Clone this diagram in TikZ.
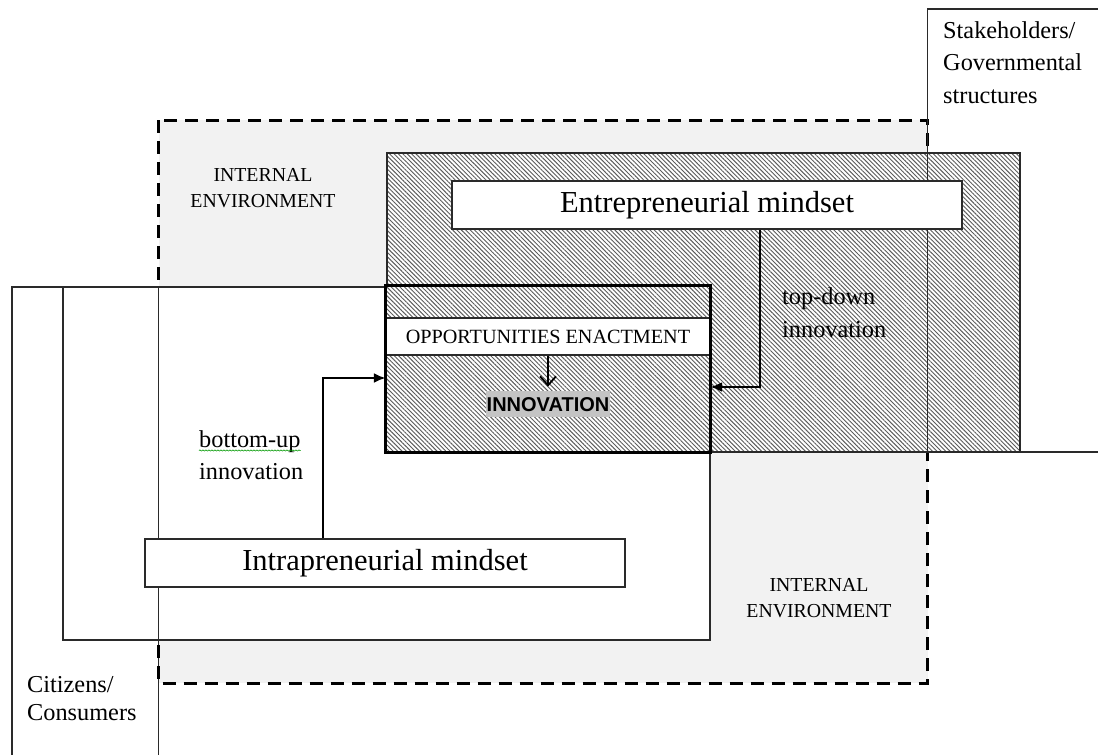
\documentclass[tikz,border=0pt]{standalone}
\usepackage{fontspec}
\setmainfont{Liberation Serif}
\newfontfamily\arialfont{Liberation Sans}
\usetikzlibrary{arrows.meta,patterns.meta,decorations.pathmorphing}
\definecolor{envgray}{HTML}{F2F2F2}
\definecolor{hlgray}{HTML}{C4C4C4}
\definecolor{linegray}{HTML}{2A2A2A}
\definecolor{hatchcol}{HTML}{5C5C5C}
\begin{document}
\begin{tikzpicture}[x=1pt,y=-1pt,
  frame/.style={line width=1.3pt, draw=linegray},
  envdash/.style={line width=3pt, draw=black, dash pattern=on 13pt off 8pt},
  hatchfill/.style={preaction={fill=white}, pattern={Lines[angle=-45,distance=3.1pt,line width=0.95pt]}, pattern color=hatchcol},
  mindbox/.style={frame, fill=white, inner sep=0pt, font=\fontsize{30.5}{36}\selectfont},
  oppbox/.style={frame, fill=white, inner sep=0pt, font=\fontsize{20.2}{24}\selectfont},
  lblsmall/.style={inner sep=0pt, anchor=base, font=\fontsize{19.8}{24}\selectfont},
  lblmid/.style={inner sep=0pt, anchor=base west, font=\fontsize{24.3}{30}\selectfont},
  arr/.style={line width=2.8pt, draw=black, -{Latex[length=12pt,width=10pt]}},
  oarr/.style={line width=1.8pt, draw=black, -{Straight Barb[length=9pt,width=16pt]}}
]
\useasboundingbox (0,0) rectangle (1098,755);

% Citizens / Consumers frame
\draw[frame] (12,755) -- (12,287) -- (158.5,287) -- (158.5,755);

% internal environment (dashed)
\fill[envgray] (158.5,120) rectangle (927.5,683);
\draw[envdash] (158.5,120) rectangle (927.5,683);

% inner white frame
\draw[frame, fill=white] (63,287) rectangle (710,640);
\draw[frame] (158.5,287) -- (158.5,640);

% large hatched area
\draw[frame, hatchfill] (387,153) rectangle (1020,452);

% Stakeholders frame
\draw[frame] (1098,9) -- (927.5,9) -- (927.5,452) -- (1098,452);

% innovation box
\node[hatchfill, inner sep=0pt, minimum width=324pt, minimum height=166pt] (inno) at (548,369) {};
\node[oppbox, minimum width=324pt, minimum height=37pt] (opp) at (548,336.5) {OPPORTUNITIES ENACTMENT};
\draw[line width=3pt, draw=black] (inno.north west) rectangle (inno.south east);
\node[fill=hlgray, font=\arialfont\bfseries\fontsize{20}{24}\selectfont, inner xsep=1pt, inner ysep=6pt, text height=14.3pt, text depth=0pt] (innov) at (548,404) {INNOVATION};

% mindset boxes
\node[mindbox, minimum width=510pt, minimum height=48pt] (ent) at (707,205) {Entrepreneurial mindset};
\node[mindbox, minimum width=480pt, minimum height=48pt] (intra) at (385,563) {Intrapreneurial mindset};

% arrows
\coordinate (td) at (760,387);
\coordinate (bu) at (323,378);
\draw[arr] (ent.south -| td) |- (inno.east |- td);
\draw[arr] (intra.north -| bu) |- (inno.west |- bu);
\draw[oarr, shorten >=4pt] (opp.south) -- (innov.north);

% labels
\node[lblmid] (st1) at (943,38) {Stakeholders/};
\node[lblmid] (st2) at (943,70) {Governmental};
\node[lblmid] (st3) at (943,103) {structures};

\node[lblsmall] (ie1) at (263,181) {INTERNAL};
\node[lblsmall] (ie2) at (263,207) {ENVIRONMENT};
\node[lblsmall] (ie3) at (819,591) {INTERNAL};
\node[lblsmall] (ie4) at (819,617) {ENVIRONMENT};

\node[lblmid] (td1) at (782,304) {top-down};
\node[lblmid] (td2) at (782,337) {innovation};

\node[lblmid] (bu1) at (199,447) {bottom-up};
\node[lblmid] (bu2) at (199,479) {innovation};
\draw[green!60!black, line width=0.6pt, decorate, decoration={snake, amplitude=0.6pt, segment length=3pt}] ([yshift=-3.5pt]bu1.base west) -- ([yshift=-3.5pt]bu1.base east);

\node[lblmid] (cc1) at (27,692) {Citizens/};
\node[lblmid] (cc2) at (27,720) {Consumers};
\end{tikzpicture}
\end{document}
